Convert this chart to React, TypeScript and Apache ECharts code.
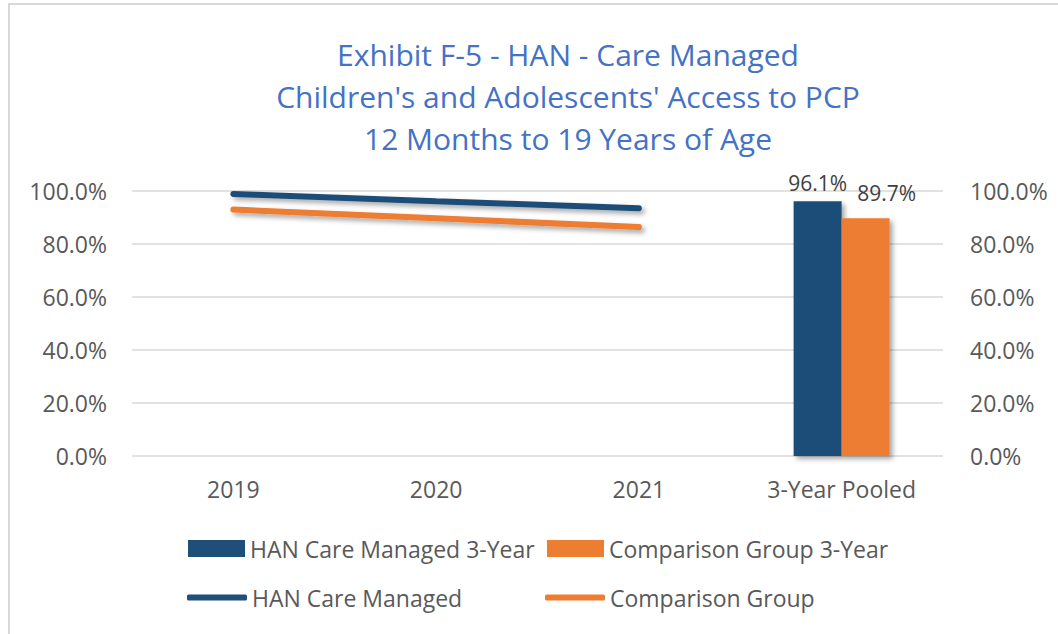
import React, { useEffect, useRef } from "react";
import * as echarts from "echarts";

const categories = ["2019", "2020", "2021", "3-Year Pooled"];
const hanLine = [98.9, 96.1, 93.5, null];
const compLine = [93.0, 89.7, 86.4, null];
const hanPooled = [null, null, null, 96.1];
const compPooled = [null, null, null, 89.7];
const titleLines = [
  "Exhibit F-5 - HAN - Care Managed",
  "Children's and Adolescents' Access to PCP",
  "12 Months to 19 Years of Age",
];

const NAVY = "#1F4E79";
const ORANGE = "#ED7D31";
const GREY = "#595959";
const FONT = "Open Sans";

export default function App() {
  const ref = useRef<HTMLDivElement>(null);
  useEffect(() => {
    const chart = echarts.init(ref.current!, null, { renderer: "svg" });
    const shadow = {
      shadowColor: "rgba(0,0,0,0.35)",
      shadowBlur: 5,
      shadowOffsetX: 3,
      shadowOffsetY: 3,
    };
    const axisLabel = {
      color: GREY,
      fontFamily: FONT,
      fontSize: 23,
      formatter: (v: number) => v.toFixed(1) + "%",
    };
    const legendText = { color: GREY, fontFamily: FONT, fontSize: 23 };
    chart.setOption({
      animation: false,
      backgroundColor: "#ffffff",
      graphic: [
        {
          type: "rect",
          shape: { x: 9, y: 4, width: 1200, height: 800 },
          style: { fill: "none", stroke: "#d9d9d9", lineWidth: 2 },
          silent: true,
        },
      ],
      title: {
        text: titleLines.join("\n"),
        left: 568,
        top: 33,
        padding: 0,
        textAlign: "center",
        textStyle: {
          color: "#4472C4",
          fontFamily: FONT,
          fontSize: 30,
          fontWeight: "normal",
          lineHeight: 42,
        },
      },
      grid: { left: 132, right: 115, top: 191, bottom: 178 },
      legend: [
        {
          data: ["HAN Care Managed 3-Year"],
          left: 188,
          top: 537,
          padding: 0,
          itemWidth: 57,
          itemHeight: 17,
          icon: "rect",
          textStyle: legendText,
        },
        {
          data: ["Comparison Group 3-Year"],
          left: 547,
          top: 537,
          padding: 0,
          itemWidth: 57,
          itemHeight: 17,
          icon: "rect",
          textStyle: legendText,
        },
        {
          data: ["HAN Care Managed"],
          left: 187,
          top: 586,
          padding: 0,
          itemWidth: 60,
          itemHeight: 6,
          icon: "roundRect",
          textStyle: legendText,
        },
        {
          data: ["Comparison Group"],
          left: 545,
          top: 586,
          padding: 0,
          itemWidth: 60,
          itemHeight: 6,
          icon: "roundRect",
          textStyle: legendText,
        },
      ],
      xAxis: {
        type: "category",
        data: categories,
        axisLine: { show: false },
        axisTick: { show: false },
        axisLabel: { color: GREY, fontFamily: FONT, fontSize: 23, margin: 21 },
      },
      yAxis: [
        {
          type: "value",
          min: 0,
          max: 100,
          interval: 20,
          axisLabel: { ...axisLabel, margin: 25 },
          splitLine: { lineStyle: { color: "#d9d9d9", width: 1.5 } },
          axisLine: { show: false },
          axisTick: { show: false },
        },
        {
          type: "value",
          position: "right",
          min: 0,
          max: 100,
          interval: 20,
          axisLabel: { ...axisLabel, margin: 27 },
          splitLine: { show: false },
          axisLine: { show: false },
          axisTick: { show: false },
        },
      ],
      series: [
        {
          name: "HAN Care Managed 3-Year",
          type: "bar",
          data: hanPooled,
          barWidth: 48,
          barGap: "0%",
          itemStyle: { color: NAVY, ...shadow },
          label: {
            show: true,
            position: "top",
            offset: [0, -3],
            color: "#404040",
            fontFamily: FONT,
            fontSize: 21,
            formatter: (p: any) => p.value.toFixed(1) + "%",
          },
        },
        {
          name: "Comparison Group 3-Year",
          type: "bar",
          data: compPooled,
          barWidth: 48,
          barGap: "0%",
          itemStyle: { color: ORANGE, ...shadow },
          label: {
            show: true,
            position: "top",
            offset: [21, -10],
            color: "#404040",
            fontFamily: FONT,
            fontSize: 21,
            formatter: (p: any) => p.value.toFixed(1) + "%",
          },
        },
        {
          name: "HAN Care Managed",
          type: "line",
          data: hanLine,
          symbol: "none",
          itemStyle: { color: NAVY },
          lineStyle: { color: NAVY, width: 6, cap: "round", ...shadow },
        },
        {
          name: "Comparison Group",
          type: "line",
          data: compLine,
          symbol: "none",
          itemStyle: { color: ORANGE },
          lineStyle: { color: ORANGE, width: 6, cap: "round", ...shadow },
        },
      ],
    });
    return () => chart.dispose();
  }, []);
  return (
    <div
      ref={ref}
      style={{ position: "absolute", left: 0, top: 0, width: 1058, height: 634 }}
    />
  );
}
